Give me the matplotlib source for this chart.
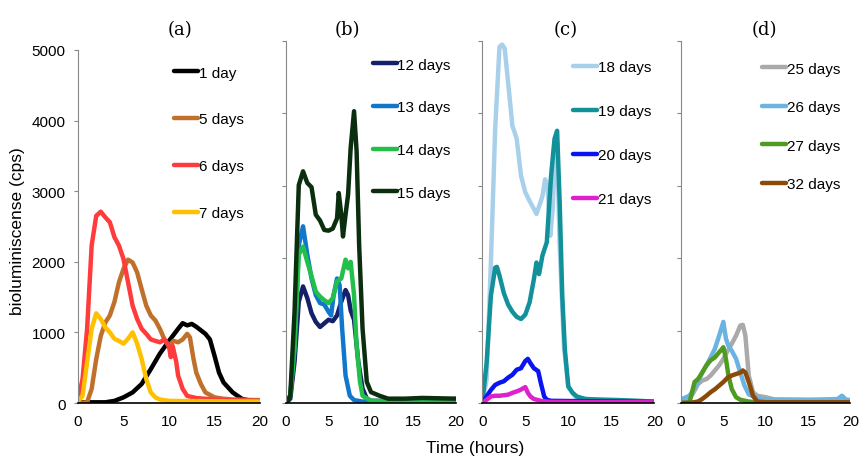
import numpy as np
import matplotlib
matplotlib.use('Agg')
from matplotlib import pyplot as plt

plt.rcParams['font.family'] = ['Liberation Sans', 'DejaVu Sans']
plt.rcParams['font.size'] = 11

# panel (a)
t_1d = [0, 1, 2, 3, 4, 5, 6, 7, 8, 9, 10, 11, 11.5, 12, 12.5, 13, 14, 14.5, 15, 15.5, 16, 17, 18, 19, 20]
v_1d = [10, 10, 10, 10, 30, 80, 150, 270, 480, 700, 880, 1050, 1130, 1100, 1120, 1080, 980, 900, 670, 430, 290, 150, 60, 30, 30]
t_5d = [0, 1, 1.5, 2, 2.5, 3, 3.5, 4, 4.5, 5, 5.5, 6, 6.5, 7, 7.5, 8, 8.5, 9, 9.5, 10, 10.5, 11, 11.5, 12, 12.3, 12.7, 13, 13.5, 14, 15, 16, 17, 20]
v_5d = [0, 10, 200, 620, 950, 1140, 1240, 1430, 1710, 1900, 2030, 1990, 1850, 1610, 1380, 1240, 1170, 1050, 900, 810, 880, 860, 900, 980, 930, 620, 430, 270, 150, 80, 60, 50, 40]
t_6d = [0, 0.5, 1, 1.5, 2, 2.5, 3, 3.5, 4, 4.5, 5, 5.5, 6, 6.5, 7, 7.5, 8, 9, 9.5, 10, 10.2, 10.4, 10.8, 11, 11.5, 12, 13, 14, 16, 20]
v_6d = [30, 340, 1050, 2230, 2650, 2710, 2630, 2560, 2350, 2230, 2040, 1710, 1380, 1190, 1050, 980, 900, 860, 900, 800, 650, 810, 580, 390, 200, 100, 70, 60, 40, 30]
t_7d = [0, 0.5, 1, 1.5, 2, 2.5, 3, 3.5, 4, 4.5, 5, 5.5, 6, 6.5, 7, 7.5, 8, 8.5, 9, 10, 20]
v_7d = [30, 100, 580, 1050, 1270, 1190, 1070, 1000, 910, 880, 840, 910, 1000, 840, 620, 340, 150, 80, 50, 30, 20]

# panel (b)
t_12d = [0, 0.5, 1, 1.5, 2, 2.5, 3, 3.5, 4, 4.5, 5, 5.5, 6, 6.5, 7, 7.3, 7.6, 8, 8.5, 9, 9.5, 10, 20]
v_12d = [0, 60, 570, 1400, 1610, 1450, 1240, 1120, 1050, 1100, 1150, 1130, 1210, 1400, 1560, 1490, 1280, 1150, 570, 200, 60, 30, 20]
t_13d = [0, 0.5, 1, 1.5, 2, 2.5, 3, 3.5, 4, 4.5, 5, 5.3, 5.6, 6, 6.3, 6.6, 7, 7.5, 8, 9, 19.5, 20]
v_13d = [30, 100, 800, 2180, 2440, 2050, 1720, 1490, 1380, 1360, 1260, 1210, 1490, 1720, 1630, 1030, 380, 100, 40, 20, 15, 60]
t_14d = [0, 0.5, 1, 1.5, 2, 2.5, 3, 3.5, 4, 4.5, 5, 5.5, 6, 6.5, 7, 7.3, 7.6, 8, 8.3, 8.7, 9, 10, 20]
v_14d = [30, 100, 750, 2050, 2160, 1950, 1750, 1540, 1470, 1420, 1380, 1450, 1680, 1720, 1980, 1860, 1950, 1490, 800, 290, 100, 30, 20]
t_15d = [0, 0.5, 1, 1.5, 2, 2.5, 3, 3.5, 4, 4.5, 5, 5.5, 6, 6.2, 6.5, 6.7, 7, 7.3, 7.6, 8, 8.3, 8.6, 9, 9.5, 10, 11, 12, 13, 14, 16, 18, 20]
v_15d = [0, 100, 1260, 3010, 3200, 3040, 2980, 2600, 2520, 2390, 2380, 2410, 2550, 2900, 2600, 2300, 2600, 2880, 3520, 4030, 3480, 2180, 1030, 290, 150, 100, 60, 60, 60, 70, 65, 60]

# panel (c)
t_18d = [0, 0.5, 1, 1.5, 2, 2.3, 2.6, 3, 3.5, 4, 4.5, 5, 5.5, 6, 6.3, 6.7, 7, 7.3, 7.6, 7.9, 8.2, 8.5, 8.7, 9, 9.5, 10, 11, 20]
v_18d = [0, 320, 1940, 3790, 4920, 4950, 4900, 4430, 3830, 3650, 3140, 2910, 2790, 2680, 2610, 2750, 2860, 3090, 3000, 2310, 2700, 3550, 3600, 2150, 780, 220, 60, 20]
t_19d = [0, 0.5, 1, 1.5, 1.7, 2, 2.5, 3, 3.5, 4, 4.5, 5, 5.5, 6, 6.3, 6.6, 7, 7.5, 8, 8.4, 8.7, 9, 9.3, 9.6, 10, 10.5, 11, 12, 14, 16, 20]
v_19d = [0, 550, 1480, 1870, 1880, 1760, 1520, 1360, 1260, 1190, 1160, 1220, 1390, 1710, 1940, 1780, 2040, 2220, 3140, 3650, 3760, 2770, 1480, 740, 230, 140, 90, 55, 45, 40, 20]
t_20d = [0, 0.5, 1, 1.5, 2, 2.5, 3, 3.5, 4, 4.5, 5, 5.3, 5.6, 6, 6.5, 6.8, 7.2, 7.5, 8, 20]
v_20d = [0, 90, 180, 250, 280, 300, 350, 390, 460, 480, 580, 610, 550, 480, 440, 280, 90, 45, 30, 15]
t_21d = [0, 0.5, 1, 1.5, 2, 3, 3.5, 4, 4.5, 5, 5.3, 5.6, 6, 7, 8, 20]
v_21d = [0, 45, 90, 100, 100, 115, 140, 160, 185, 220, 140, 90, 55, 25, 15, 10]

# panel (d)
t_25d = [0, 1, 1.5, 2, 2.5, 3, 3.5, 4, 4.5, 5, 5.5, 6, 6.5, 7, 7.3, 7.6, 8, 8.5, 9, 10, 11, 20]
v_25d = [20, 55, 150, 260, 310, 330, 380, 450, 520, 610, 720, 820, 930, 1070, 1080, 930, 380, 150, 100, 80, 50, 40]
t_26d = [0, 1, 1.5, 2, 2.5, 3, 3.5, 4, 4.5, 5, 5.3, 5.6, 6, 6.5, 7, 7.5, 8, 9, 10, 15, 18.5, 19, 19.5, 20]
v_26d = [50, 100, 190, 290, 420, 520, 630, 750, 930, 1120, 890, 790, 720, 610, 420, 240, 120, 65, 45, 40, 55, 100, 45, 40]
t_27d = [0, 1, 1.3, 1.6, 2, 2.5, 3, 3.5, 4, 4.5, 5, 5.3, 5.6, 6, 6.5, 7, 8, 9, 20]
v_27d = [0, 10, 150, 290, 330, 420, 520, 590, 630, 700, 770, 610, 380, 190, 80, 45, 20, 10, 10]
t_32d = [0, 1, 2, 2.5, 3, 3.5, 4, 4.5, 5, 5.5, 6, 6.5, 7, 7.3, 7.6, 8, 8.5, 9, 10, 20]
v_32d = [0, 0, 20, 55, 100, 150, 190, 240, 290, 350, 380, 400, 420, 450, 420, 290, 100, 20, 10, 10]

panels = [
    ('(a)', [(t_1d, v_1d, '1 day', '#000000'), (t_5d, v_5d, '5 days', '#C0702A'),
             (t_6d, v_6d, '6 days', '#FF3B3B'), (t_7d, v_7d, '7 days', '#FFC000')]),
    ('(b)', [(t_12d, v_12d, '12 days', '#14206A'), (t_13d, v_13d, '13 days', '#1177CC'),
             (t_14d, v_14d, '14 days', '#22C04A'), (t_15d, v_15d, '15 days', '#0B2E0F')]),
    ('(c)', [(t_18d, v_18d, '18 days', '#A8D0EA'), (t_19d, v_19d, '19 days', '#13919B'),
             (t_20d, v_20d, '20 days', '#0A14F0'), (t_21d, v_21d, '21 days', '#DD22CC')]),
    ('(d)', [(t_25d, v_25d, '25 days', '#AAAAAA'), (t_26d, v_26d, '26 days', '#6BB3E0'),
             (t_27d, v_27d, '27 days', '#4F9A20'), (t_32d, v_32d, '32 days', '#8B4A0A')]),
]

# axes boxes in figure fractions
boxes = [[0.0907, 0.1293, 0.2116, 0.7608],
         [0.3326, 0.1293, 0.1977, 0.7802],
         [0.5608, 0.1293, 0.2000, 0.7802],
         [0.7919, 0.1293, 0.1969, 0.7802]]
leg_pos = [(0.527, 0.956, 2.15), (0.51, 0.954, 1.88), (0.53, 0.947, 1.97), (0.48, 0.943, 1.61)]
title_x = [180, 347, 566, 764]

fig = plt.figure(figsize=(8.6, 4.64), dpi=100)
for i, (title, series) in enumerate(panels):
    ax = fig.add_axes(boxes[i])
    for t, v, lab, col in series:
        ax.plot(t, v, color=col, lw=3.2, label=lab, solid_joinstyle='round', solid_capstyle='round')
    ax.set_xlim(0, 20)
    ax.set_ylim(0, 5000)
    ax.set_xticks([0, 5, 10, 15, 20])
    ax.set_yticks([0, 1000, 2000, 3000, 4000, 5000])
    ax.tick_params(axis='x', length=0, pad=8, labelsize=11)
    ax.tick_params(axis='y', length=3, color='#888888', labelsize=11, pad=6)
    if i > 0:
        ax.set_yticklabels([])
    for s in ['top', 'right']:
        ax.spines[s].set_visible(False)
    ax.spines['left'].set_color('#888888')
    ax.spines['bottom'].set_color('black')
    ax.spines['bottom'].set_linewidth(1.2)
    lx, ly, lsp = leg_pos[i]
    ax.legend(loc='upper left', bbox_to_anchor=(lx, ly), frameon=False, borderpad=0,
              borderaxespad=0, handlelength=1.57, handletextpad=0.05, labelspacing=lsp,
              fontsize=11)
    fig.text(title_x[i] / 860, 1 - 30 / 464, title, ha='center', va='center',
             family=['DejaVu Serif'], fontsize=13)

fig.text(18 / 860, 1 - 231 / 464, 'bioluminiscense (cps)', rotation=90, ha='center', va='center', fontsize=12.5)
fig.text(475 / 860, 1 - 449 / 464, 'Time (hours)', ha='center', va='center', fontsize=12.5)

plt.savefig('out.png', dpi=100)
